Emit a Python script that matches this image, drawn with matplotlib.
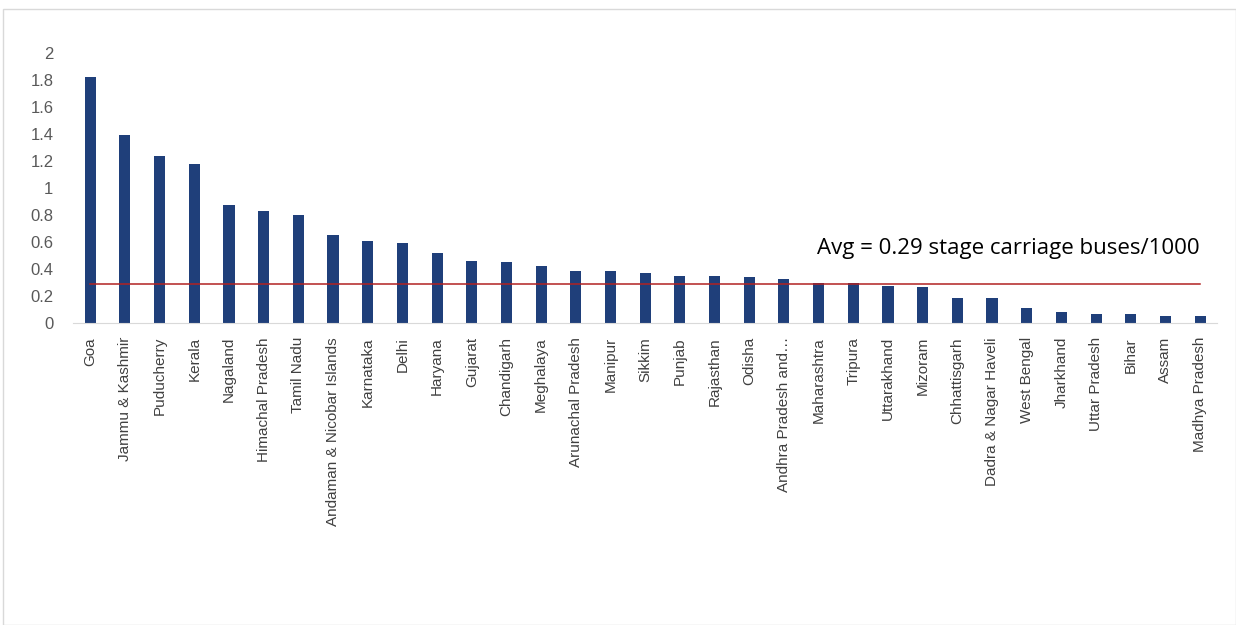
import matplotlib
matplotlib.use("Agg")
import matplotlib.pyplot as plt
from matplotlib.patches import Rectangle

# datos (buses de transporte por 1000 personas)
estados = ["Goa", "Jammu & Kashmir", "Puducherry", "Kerala", "Nagaland",
           "Himachal Pradesh", "Tamil Nadu", "Andaman & Nicobar Islands",
           "Karnataka", "Delhi", "Haryana", "Gujarat", "Chandigarh",
           "Meghalaya", "Arunachal Pradesh", "Manipur", "Sikkim", "Punjab",
           "Rajasthan", "Odisha", "Andhra Pradesh and\u2026", "Maharashtra",
           "Tripura", "Uttarakhand", "Mizoram", "Chhattisgarh",
           "Dadra & Nagar Haveli", "West Bengal", "Jharkhand",
           "Uttar Pradesh", "Bihar", "Assam", "Madhya Pradesh"]
valores = [1.82, 1.395, 1.235, 1.18, 0.875, 0.83, 0.80, 0.65, 0.607, 0.597,
           0.517, 0.463, 0.453, 0.42, 0.383, 0.383, 0.375, 0.346, 0.346,
           0.338, 0.33, 0.30, 0.30, 0.274, 0.264, 0.185, 0.185, 0.114,
           0.08, 0.068, 0.068, 0.053, 0.053]
promedio = 0.29
texto_prom = "Avg = 0.29 stage carriage buses/1000"
yticks = [0, 0.2, 0.4, 0.6, 0.8, 1, 1.2, 1.4, 1.6, 1.8, 2]

plt.rcParams['font.family'] = ['Liberation Sans', 'DejaVu Sans']

fig = plt.figure(figsize=(12.36, 6.25), dpi=100)
# marco gris alrededor de la imagen
fig.patches.append(Rectangle((3 / 1236, 0), 1 - 3 / 1236, 1 - 9 / 625,
                             transform=fig.transFigure, fill=False,
                             edgecolor="#d9d9d9", linewidth=1))
ax = fig.add_axes([0.059, 0.483, 0.926, 0.432])

x = range(len(estados))
ax.bar(x, valores, width=0.32, color="#1f3f7a")
ax.plot([0, len(estados) - 1], [promedio, promedio], color="#b22222", linewidth=1.1)
ax.text(len(estados) - 1, 0.55, texto_prom, ha="right", va="center",
        fontsize=16, color="#000000", family=['Open Sans', 'DejaVu Sans'])

ax.set_xlim(-0.5, len(estados) - 0.5)
ax.set_ylim(0, 2)
ax.set_yticks(yticks)
ax.set_yticklabels([f"{v:g}" for v in yticks], fontsize=12, color="#595959")
ax.set_xticks(list(x))
ax.set_xticklabels(estados, rotation=90, fontsize=11, color="#404040")
ax.tick_params(length=0, pad=10)
ax.tick_params(axis="y", pad=14)
for lado in ["top", "right", "left"]:
    ax.spines[lado].set_visible(False)
ax.spines["bottom"].set_color("#d9d9d9")

fig.savefig("out.png", dpi=100)
